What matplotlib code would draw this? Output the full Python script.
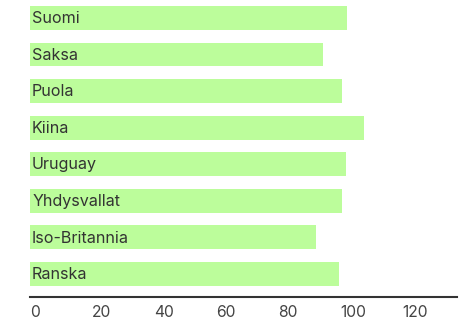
import matplotlib
matplotlib.use("Agg")
import matplotlib.pyplot as plt

countries = ["Suomi", "Saksa", "Puola", "Kiina", "Uruguay", "Yhdysvallat", "Iso-Britannia", "Ranska"]
values = [102, 94.2, 100.6, 107.7, 101.6, 100.6, 92.2, 99.6]
ticks = [0, 20, 40, 60, 80, 100, 120]

plt.rcParams['font.family'] = ['Inter', 'DejaVu Sans']

fig = plt.figure(figsize=(4.69, 3.23), dpi=100)
ax = fig.add_axes([30/469, 26/323, 427/469, 297/323])

y = list(range(len(countries)))
ax.barh(y, values, height=0.656, color="#bcfd9b", left=0)
for yi, name in zip(y, countries):
    ax.annotate(name, xy=(0, yi), xytext=(1.5, -0.5), textcoords="offset points",
                ha="left", va="center", fontsize=11.6, color="#333333")

ax.set_xlim(0, 137.5)
ax.set_ylim(7.63, -0.49)
ax.set_xticks(ticks)
ax.set_xticklabels([str(t) for t in ticks], ha="left", fontsize=11.3, color="#444444")
ax.tick_params(axis="x", length=0, pad=6)
ax.set_yticks([])
for s in ["top", "right", "left"]:
    ax.spines[s].set_visible(False)
ax.spines["bottom"].set_color("#333333")
ax.spines["bottom"].set_linewidth(1.5)

fig.savefig("out.png", dpi=100)
